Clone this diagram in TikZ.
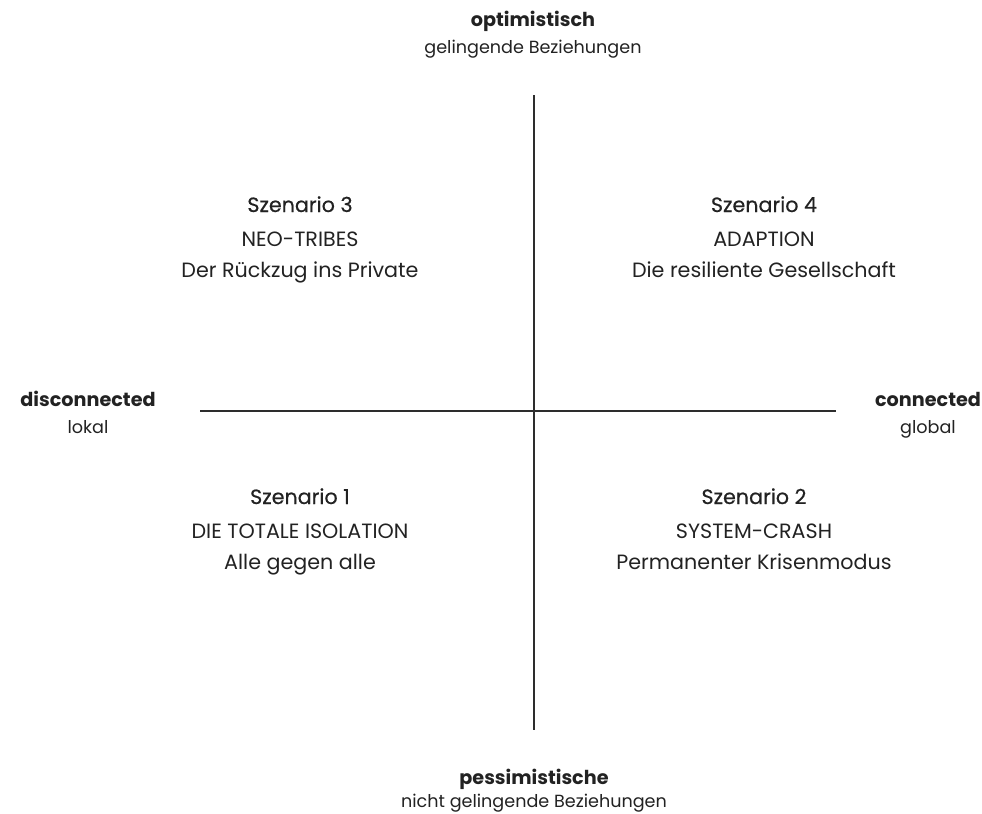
\documentclass[tikz,border=0pt]{standalone}
\usepackage{fontspec}
\setmainfont{Poppins}
\newfontfamily\headfont[FakeBold=0.5]{Poppins}
\usepackage{tikz}
\usetikzlibrary{positioning}
\definecolor{inkgray}{HTML}{222222}
\colorlet{axisgray}{inkgray!95}

\begin{document}
\begin{tikzpicture}[x=0.75pt,y=-0.75pt,
    axislabel/.style={anchor=base, text=inkgray, font=\bfseries\fontsize{14.4}{16}\selectfont},
    axissub/.style={anchor=base, text=inkgray, font=\fontsize{13.2}{15}\selectfont},
    scenline/.style={anchor=base, text=inkgray, font=\fontsize{15.5}{18}\selectfont},
    scenhead/.style={scenline, font=\headfont\fontsize{15.5}{18}\selectfont},
    axisline/.style={draw=axisgray, line width=1.1pt}]
        \useasboundingbox (0,0) rectangle (982,814);
        % axes
        \coordinate (top) at (534,95);
        \coordinate (bottom) at (534,730);
        \coordinate (left) at (200,411);
        \coordinate (right) at (836,411);
        \draw[axisline] (top) -- (bottom);
        \draw[axisline] (left) -- (right);
        % axis ends
        \node[axislabel] (opt) at (533,26) {optimistisch};
        \node[axissub] (optsub) at (533,53) {gelingende Beziehungen};
        \node[axislabel] (pess) at (534,784) {pessimistische};
        \node[axissub] (pesssub) at (534,807) {nicht gelingende Beziehungen};
        \node[axislabel] (disc) at (88,406) {disconnected};
        \node[axissub] (discsub) at (88,433) {lokal};
        \node[axislabel] (conn) at (928,406) {connected};
        \node[axissub] (connsub) at (928,433) {global};
        % scenarios
        \foreach \n/\x/\y/\title/\motto in {
            3/300/212/NEO-TRIBES/Der Rückzug ins Private,
            4/764/212/ADAPTION/Die resiliente Gesellschaft,
            1/300/504/DIE TOTALE ISOLATION/Alle gegen alle,
            2/754/504/SYSTEM-CRASH/Permanenter Krisenmodus}{
            \node[scenhead] (sz\n) at (\x,\y) {Szenario \n};
            \node[scenline] (title\n) at (\x,\y+34) {\title};
            \node[scenline] (motto\n) at (\x,\y+65) {\motto};
        }
    \end{tikzpicture}
\end{document}
